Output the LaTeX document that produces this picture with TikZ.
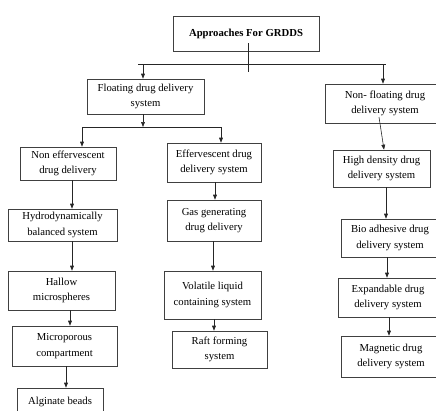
\documentclass[tikz,border=0pt]{standalone}
\usepackage{fontspec}
\setmainfont{Liberation Serif}
\usetikzlibrary{arrows.meta}
\begin{document}
\begin{tikzpicture}[x=1pt,y=-1pt,
    box/.style={draw=black!75,line width=0.6pt,align=center,inner sep=0pt,
        font=\fontsize{10.7}{15.5}\selectfont},
    line/.style={draw=black!85,line width=0.6pt},
    arr/.style={line,-{Triangle[length=5pt,width=3.8pt]}}]
        \useasboundingbox (0,0) rectangle (436,410);
        % Caselle
        \node[box,minimum width=146pt,minimum height=35pt] (root) at (246,33.5) {\textbf{Approaches For GRDDS}};
        \node[box,minimum width=117pt,minimum height=35pt] (floating) at (145.5,96.5) {Floating drug delivery\\system};
        \node[box,minimum width=120pt,minimum height=39pt] (nonfloat) at (385,103.5) {Non- floating drug\\delivery system};
        \node[box,minimum width=96pt,minimum height=33pt] (noneff) at (68,163.5) {Non effervescent\\drug delivery};
        \node[box,minimum width=109pt,minimum height=32pt] (hydro) at (62.5,225) {Hydrodynamically\\balanced system};
        \node[box,minimum width=107pt,minimum height=39pt] (hallow) at (61.5,290.5) {Hallow\\microspheres};
        \node[box,minimum width=105pt,minimum height=40pt] (micro) at (64.5,346) {Microporous\\compartment};
        \node[box,minimum width=86pt,minimum height=28pt] (alginate) at (60,402) {Alginate beads};
        \node[box,minimum width=94pt,minimum height=39pt] (eff) at (214,162.5) {Effervescent drug\\delivery system};
        \node[box,minimum width=94pt,minimum height=41pt] (gas) at (214,220.5) {Gas generating\\drug delivery};
        \node[box,minimum width=97pt,minimum height=48pt] (volatile) at (212.5,295) {Volatile liquid\\containing system};
        \node[box,minimum width=95pt,minimum height=37pt] (raft) at (219.5,349.5) {Raft forming\\system};
        \node[box,minimum width=97pt,minimum height=37pt] (highdens) at (381.5,168.5) {High density drug\\delivery system};
        \node[box,minimum width=98pt,minimum height=38pt] (bio) at (390,238) {Bio adhesive drug\\delivery system};
        \node[box,minimum width=100pt,minimum height=39pt] (expand) at (388,297.5) {Expandable drug\\delivery system};
        \node[box,minimum width=100pt,minimum height=41pt] (magnetic) at (391,356.5) {Magnetic drug\\delivery system};
        % Punti di snodo
        \coordinate (stemtop) at (248,43);
        \coordinate (stemend) at (248,72);
        \coordinate (barL) at (138,64);
        \coordinate (barR) at (386,64);
        \coordinate (splitL) at (82,127);
        \coordinate (splitR) at (221,127);
        \coordinate (nfstem) at (379,117);
        % Linee
        \draw[line] (stemtop) -- (stemend);
        \draw[line] (barL) -- (barR);
        \draw[arr] ([xshift=-2.5pt]floating.north |- barL) -- ([xshift=-2.5pt]floating.north);
        \draw[arr] ([xshift=-2pt]nonfloat.north |- barR) -- ([xshift=-2pt]nonfloat.north);
        \draw[arr] ([xshift=-2.5pt]floating.south) -- ([xshift=-2.5pt]floating.south |- splitL);
        \draw[line] (splitL) -- (splitR);
        \draw[arr] (splitL) -- (splitL |- noneff.north);
        \draw[arr] (splitR) -- (splitR |- eff.north);
        % Colonna sinistra
        \draw[arr] ([xshift=4pt]noneff.south) -- ([xshift=4pt]noneff.south |- hydro.north);
        \draw[arr] ([xshift=9.5pt]hydro.south) -- ([xshift=9.5pt]hydro.south |- hallow.north);
        \draw[arr] ([xshift=8.5pt]hallow.south) -- ([xshift=8.5pt]hallow.south |- micro.north);
        \draw[arr] ([xshift=1.5pt]micro.south) -- ([xshift=1.5pt]micro.south |- alginate.north);
        % Colonna centrale
        \draw[arr] ([xshift=1pt]eff.south) -- ([xshift=1pt]eff.south |- gas.north);
        \draw[arr] ([xshift=-1pt]gas.south) -- ([xshift=-1pt]gas.south |- volatile.north);
        \draw[arr] ([xshift=1.5pt]volatile.south) -- ([xshift=1.5pt]volatile.south |- raft.north);
        % Colonna destra
        \draw[arr] (nfstem) -- ([xshift=2.5pt]highdens.north);
        \draw[arr] ([xshift=4.5pt]highdens.south) -- ([xshift=4.5pt]highdens.south |- bio.north);
        \draw[arr] ([xshift=-3pt]bio.south) -- ([xshift=-3pt]bio.south |- expand.north);
        \draw[arr] ([xshift=1pt]expand.south) -- ([xshift=1pt]expand.south |- magnetic.north);
\end{tikzpicture}
\end{document}
